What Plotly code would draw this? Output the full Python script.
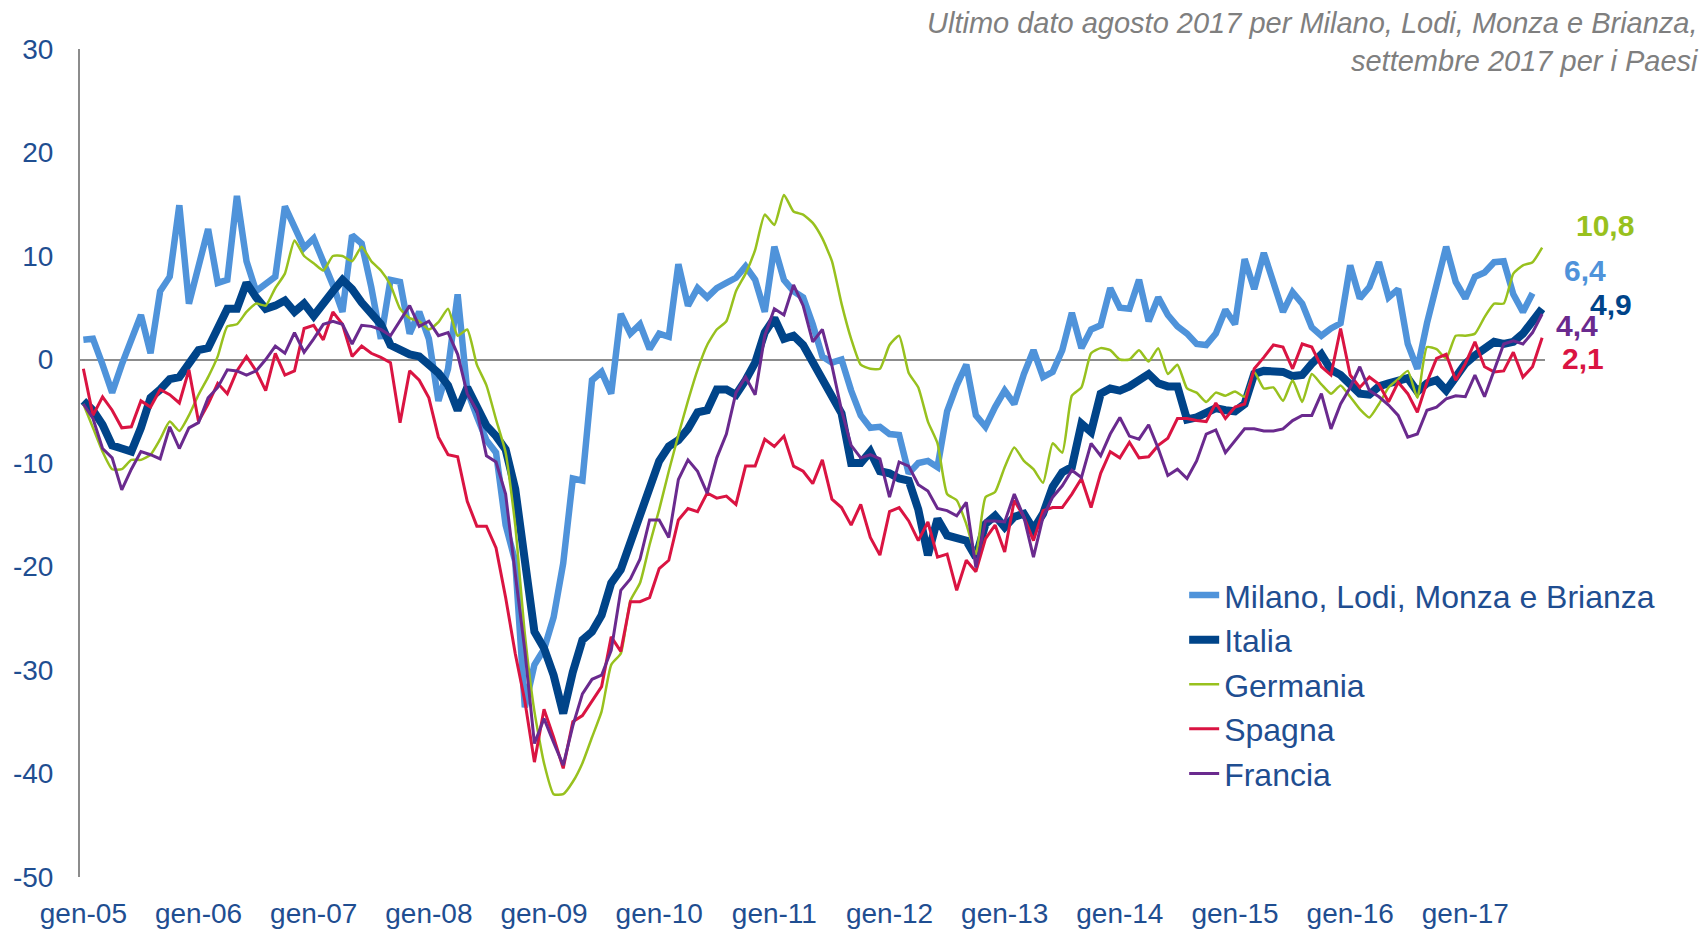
import pandas as pd
import plotly.graph_objects as go

# month labels, jan 2005 - sep 2017
mesi = ["gen", "feb", "mar", "apr", "mag", "giu", "lug", "ago", "set", "ott", "nov", "dic"]
date = pd.date_range("2005-01-01", "2017-09-01", freq="MS")
mesi_lbl = [f"{mesi[d.month - 1]}-{d.year % 100:02d}" for d in date]

# y ticks, written with a plain hyphen as in the original
y_tick = [-50, -40, -30, -20, -10, 0, 10, 20, 30]
y_tick_lbl = ["-50", "-40", "-30", "-20", "-10", "0", "10", "20", "30"]

# values (last data aug 2017 for Milano, sep 2017 for countries)
milano = [1.9, 2.0, -0.5, -3.2, -0.5, 2.0, 4.3, 0.6, 6.6, 8.0, 14.9, 5.4,
          8.9, 12.6, 7.4, 7.7, 15.8, 9.5, 6.6, 7.4, 8.0, 14.8, 12.6, 10.8,
          11.7, 9.5, 7.2, 4.6, 12.0, 11.2, 7.0, 2.0, 7.7, 7.5, 2.5, 4.6,
          2.0, -4.0, -0.9, 6.3, -3.0, -5.5, -7.8, -9.0, -16.0, -19.5, -33.6, -29.5,
          -28.0, -24.9, -19.7, -11.5, -11.7, -2.0, -1.2, -3.3, 4.4, 2.5, 3.4, 1.0,
          2.5, 2.2, 9.2, 5.2, 6.9, 6.0, 6.9, 7.4, 7.9, 9.0, 7.7, 4.6,
          10.9, 7.7, 6.6, 6.0, 3.4, 0.3, -0.3, 0.0, -3.0, -5.4, -6.6, -6.5,
          -7.2, -7.3, -11.0, -10.0, -9.8, -10.4, -5.0, -2.5, -0.5, -5.4, -6.5, -4.6,
          -3.0, -4.3, -1.4, 0.9, -1.7, -1.2, 0.9, 4.5, 1.1, 2.9, 3.3, 6.9,
          5.0, 4.9, 7.7, 3.7, 6.0, 4.3, 3.2, 2.5, 1.5, 1.4, 2.5, 4.8,
          3.4, 9.7, 6.8, 10.3, 7.6, 4.6, 6.5, 5.4, 3.1, 2.3, 3.0, 3.5,
          9.1, 5.9, 7.0, 9.4, 6.0, 6.8, 1.5, -0.9, 3.5, 7.5, 10.9, 7.5,
          5.9, 8.0, 8.4, 9.4, 9.5, 6.3, 4.6, 6.4]

italia = [-4.0, -4.9, -6.3, -8.3, -8.6, -8.9, -6.6, -3.7, -2.9, -1.9, -1.7, -0.3,
          0.9, 1.1, 2.9, 4.9, 4.9, 7.4, 6.0, 4.9, 5.2, 5.7, 4.6, 5.4,
          4.2, 5.5, 6.6, 7.7, 6.8, 5.5, 4.5, 3.4, 1.4, 0.9, 0.5, 0.3,
          -0.4, -1.3, -2.5, -4.9, -2.7, -4.6, -6.4, -7.4, -8.7, -12.5, -18.8, -26.3,
          -27.9, -30.5, -34.2, -30.2, -27.1, -26.3, -24.7, -21.6, -20.3, -17.8, -15.2, -12.8,
          -9.8, -8.4, -7.8, -6.7, -5.1, -4.9, -2.9, -2.9, -3.4, -2.0, -0.3, 2.6,
          4.0, 2.0, 2.3, 1.4, -0.3, -2.0, -3.7, -5.2, -10.0, -10.0, -8.9, -10.8,
          -11.0, -11.5, -11.7, -14.5, -18.9, -15.4, -17.0, -17.3, -17.5, -19.1, -15.9, -15.1,
          -16.2, -15.2, -14.9, -16.4, -14.9, -12.3, -10.9, -10.4, -6.2, -7.0, -3.3, -2.8,
          -3.0, -2.6, -2.0, -1.4, -2.3, -2.6, -2.6, -5.8, -5.6, -5.2, -4.7, -4.9,
          -5.0, -4.3, -1.4, -1.1, -1.1, -1.2, -1.6, -1.5, -0.4, 0.5, -1.0, -1.5,
          -2.4, -3.3, -3.4, -2.6, -2.3, -2.1, -1.8, -3.1, -2.3, -2.0, -3.0, -1.7,
          -0.4, 0.4, 1.0, 1.7, 1.5, 1.7, 2.5, 3.8, 4.9]

germania = [-4.3, -6.6, -8.9, -10.6, -10.6, -9.7, -9.7, -9.2, -7.7, -6.0, -6.9, -5.4,
            -3.4, -1.7, 0.3, 3.2, 3.4, 4.6, 5.4, 5.2, 6.9, 8.3, 11.5, 10.0,
            9.3, 8.6, 10.0, 10.0, 9.5, 10.9, 9.5, 8.6, 7.2, 4.9, 4.0, 3.7,
            2.9, 3.6, 4.9, 2.3, 2.9, -0.5, -2.5, -5.8, -9.0, -16.0, -26.5, -34.0,
            -39.0, -42.0, -42.0, -40.8, -39.0, -36.5, -34.0, -29.5, -28.4, -23.3, -21.6, -17.9,
            -14.5, -10.8, -7.3, -4.0, -1.0, 1.4, 2.9, 3.7, 6.6, 8.3, 10.6, 14.0,
            13.0, 15.9, 14.3, 14.0, 13.2, 11.7, 9.5, 5.4, 2.0, -0.5, -0.9, -0.9,
            1.4, 2.3, -1.3, -2.7, -6.0, -8.1, -13.0, -13.6, -15.9, -18.8, -13.3, -12.8,
            -10.4, -8.5, -9.8, -10.6, -11.9, -8.1, -9.0, -3.5, -2.7, 0.6, 1.1, 0.9,
            0.0, 0.0, 0.9, -0.2, 1.1, -1.4, -0.5, -2.8, -3.2, -4.1, -3.2, -3.5,
            -3.1, -3.6, -1.2, -2.8, -2.7, -4.0, -2.0, -4.1, -1.4, -2.4, -3.3, -2.5,
            -3.6, -4.8, -5.6, -4.3, -2.7, -1.9, -1.1, -3.7, 1.2, 1.0, 0.1, 2.3,
            2.3, 2.5, 4.1, 5.4, 5.4, 8.3, 9.1, 9.4, 10.8]

spagna = [-0.9, -5.4, -3.6, -4.9, -6.6, -6.5, -4.0, -4.6, -2.9, -3.4, -4.2, -1.0,
          -6.0, -4.3, -2.3, -3.3, -1.1, 0.3, -1.1, -3.0, 0.6, -1.5, -1.1, 3.0,
          3.3, 1.9, 4.6, 3.4, 0.3, 1.3, 0.6, 0.2, -0.3, -6.1, -1.1, -2.0,
          -3.7, -7.5, -9.2, -9.4, -13.7, -16.1, -16.1, -18.2, -23.0, -28.4, -33.0, -38.9,
          -33.8, -36.5, -39.5, -35.0, -34.4, -33.0, -31.6, -26.8, -28.2, -23.4, -23.4, -23.0,
          -20.2, -19.4, -15.5, -14.4, -14.7, -12.9, -13.4, -13.2, -14.0, -10.3, -10.3, -7.7,
          -8.4, -7.4, -10.3, -10.8, -12.0, -9.7, -13.5, -14.3, -16.0, -14.0, -17.2, -18.9,
          -14.7, -14.3, -15.6, -17.5, -15.7, -19.1, -18.8, -22.3, -19.4, -20.5, -17.3, -16.0,
          -18.6, -13.6, -15.2, -17.5, -14.6, -14.3, -14.3, -13.0, -11.5, -14.3, -11.0, -8.9,
          -9.5, -8.0, -9.5, -9.4, -8.3, -7.6, -5.7, -5.7, -5.9, -6.0, -4.2, -5.7,
          -4.6, -4.3, -0.9, 0.2, 1.4, 1.2, -0.9, 1.5, 1.2, -0.7, -1.5, 3.0,
          -1.5, -2.7, -1.7, -2.4, -4.1, -2.2, -3.3, -5.1, -2.2, 0.1, 0.5, -2.0,
          -0.4, 1.7, -0.7, -1.2, -1.1, 0.7, -1.7, -0.7, 2.1]

francia = [-4.3, -5.7, -8.6, -9.5, -12.6, -10.6, -8.9, -9.2, -9.6, -6.5, -8.6, -6.6,
           -6.1, -3.7, -2.7, -1.0, -1.1, -1.5, -1.1, 0.0, 1.3, 0.6, 2.6, 0.7,
           2.0, 3.4, 3.7, 3.4, 1.5, 3.3, 3.2, 2.9, 2.3, 3.7, 5.2, 3.2,
           3.7, 2.3, 2.6, 0.5, -3.3, -4.9, -9.3, -9.9, -13.0, -20.7, -28.1, -37.1,
           -34.7, -37.0, -39.2, -35.4, -32.3, -30.9, -30.5, -28.1, -22.3, -21.2, -19.3, -15.5,
           -15.5, -17.2, -11.6, -9.7, -10.8, -12.9, -9.5, -7.2, -3.2, -1.7, -3.4, 2.3,
           4.9, 4.3, 7.2, 5.2, 1.7, 2.9, -0.6, -4.9, -8.3, -9.5, -9.2, -9.6,
           -13.3, -9.9, -10.3, -12.1, -12.7, -14.4, -14.6, -15.1, -13.8, -20.1, -15.6, -15.6,
           -15.7, -13.0, -15.2, -19.1, -15.2, -13.3, -12.2, -10.7, -11.4, -8.1, -9.3, -7.2,
           -5.6, -7.4, -7.7, -6.3, -8.6, -11.2, -10.6, -11.5, -9.8, -7.2, -6.8, -9.0,
           -7.8, -6.7, -6.7, -6.9, -6.9, -6.7, -5.9, -5.4, -5.4, -3.3, -6.7, -4.3,
           -2.7, -0.7, -3.0, -3.6, -4.4, -5.4, -7.5, -7.2, -4.9, -4.6, -3.8, -3.5,
           -3.6, -1.5, -3.6, -1.1, 1.5, 1.8, 1.5, 2.6, 4.4]

# name, values, colour, width, line shape (Germania is drawn smoothed)
serie = [
    ("Milano, Lodi, Monza e Brianza", milano, "#4F93DA", 6.5, "linear"),
    ("Italia", italia, "#004489", 8, "linear"),
    ("Germania", germania, "#98C11E", 2.5, "spline"),
    ("Spagna", spagna, "#DA1442", 3, "linear"),
    ("Francia", francia, "#6A2A8E", 3, "linear"),
]

# end-of-line labels
ultimi = ["10,8", "6,4", "4,9", "4,4", "2,1"]
col_ultimi = ["#98C11E", "#4F93DA", "#004489", "#6A2A8E", "#DA1442"]
pos_ultimi = [(1.041, 12.9), (1.027, 8.6), (1.045, 5.3), (1.022, 3.3), (1.026, 0.1)]

blu = "#1F4E91"

fig = go.Figure()
for nome, val, col, w, forma in serie:
    fig.add_trace(go.Scatter(x=mesi_lbl[:len(val)], y=val, name=nome, mode="lines",
                             line=dict(color=col, width=w, shape=forma, smoothing=0.5)))

for txt, col, (px_, py_) in zip(ultimi, col_ultimi, pos_ultimi):
    fig.add_annotation(x=px_, y=py_, xref="paper", yref="y", text=f"<b>{txt}</b>",
                       showarrow=False, xanchor="center", yanchor="middle",
                       font=dict(size=30, color=col))

# note at the top right of the page
fig.add_annotation(x=1.1065, y=1.0085, xref="paper", yref="paper",
                   xanchor="right", yanchor="middle", align="right", showarrow=False,
                   text="<i>Ultimo dato agosto 2017 per Milano, Lodi, Monza e Brianza,</i><br>"
                        "<i>settembre 2017 per i Paesi</i>",
                   font=dict(size=29, color="#7F7F7F"))

# the page body keeps its 8px margin, so the figure is 8px smaller each way
fig.update_layout(
    width=1700, height=922,
    margin=dict(l=72, r=163, t=41, b=53),
    paper_bgcolor="white", plot_bgcolor="white",
    font=dict(family="Liberation Sans, Arial, sans-serif", color=blu),
    showlegend=True,
    legend=dict(x=0.7537, y=0.3735, xanchor="left", yanchor="top",
                font=dict(size=32, color=blu), bgcolor="rgba(0,0,0,0)",
                tracegroupgap=0),
)

fig.update_xaxes(type="category", range=[-0.35, 152.3], automargin=False,
                 tickvals=[m for m in mesi_lbl if m.startswith("gen")],
                 tickfont=dict(size=28, color=blu), showgrid=False, showline=False,
                 ticks="", ticklabelstandoff=17)
fig.update_yaxes(range=[-50, 30], automargin=False,
                 tickvals=y_tick, ticktext=y_tick_lbl, tickfont=dict(size=28, color=blu),
                 showgrid=False, showline=True, linecolor="#8C8C8C", linewidth=2,
                 zeroline=True, zerolinecolor="#8C8C8C", zerolinewidth=2,
                 ticks="", ticklabelstandoff=19)

fig.write_html("out.html")
